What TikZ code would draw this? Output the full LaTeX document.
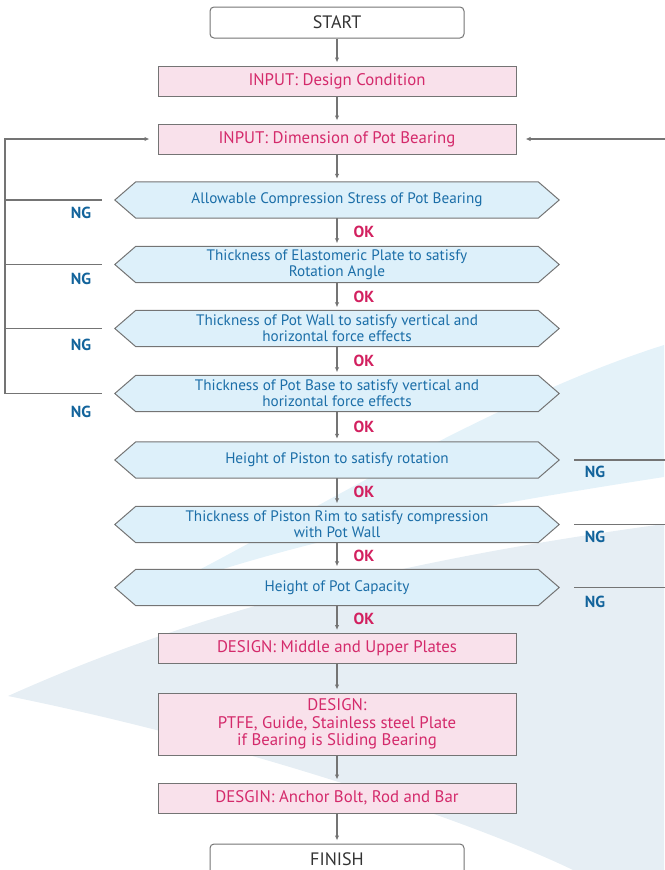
\documentclass[tikz,border=0pt]{standalone}
\usepackage{fontspec}
\setmainfont{PT Sans}
\usetikzlibrary{arrows.meta,calc}
\definecolor{pinkfill}{HTML}{F9E1EB}
\definecolor{pinktext}{HTML}{D42A6B}
\definecolor{hexfill}{HTML}{DDF0FA}
\definecolor{hextext}{HTML}{1B6EA8}
\definecolor{ngcol}{HTML}{12639B}
\definecolor{okcol}{HTML}{D2205F}
\definecolor{linecol}{HTML}{747474}
\definecolor{bgblue}{HTML}{E4F2F9}
\definecolor{bggray}{HTML}{E6EEF4}
\definecolor{darktext}{HTML}{333333}
\pgfdeclarelayer{back}
\pgfdeclarelayer{hexlayer}
\pgfsetlayers{back,hexlayer,main}
\begin{document}
\begin{tikzpicture}[x=1pt,y=-1pt,
  termbox/.style={draw=linecol, line width=1pt, fill=white, rounded corners=4pt, minimum width=254pt, minimum height=31pt, font=\fontsize{18}{20}\selectfont, text=darktext, inner sep=0pt},
  pinkbox/.style={draw=linecol, line width=1pt, fill=pinkfill, minimum width=358pt, minimum height=30pt, font=\fontsize{16.8}{17.5}\selectfont, text=pinktext, align=center, inner sep=0pt},
  hexbox/.style={minimum width=402pt, minimum height=36pt, font=\fontsize{15.2}{15.7}\selectfont, text=hextext, align=center, inner sep=0pt},
  hexshape/.style={draw=linecol, line width=1pt, fill=hexfill},
  conn/.style={draw=linecol, line width=1.1pt},
  arr/.style={conn, -{Latex[length=5pt,width=4.5pt]}, shorten >=3pt},
  ok/.style={font=\bfseries\fontsize{16}{18}\selectfont, text=okcol, anchor=west, inner sep=0pt, xshift=16pt},
  ng/.style={font=\bfseries\fontsize{16}{18}\selectfont, text=ngcol, inner sep=0pt},
]
\useasboundingbox (0,0) rectangle (664,870);

\begin{pgfonlayer}{back}
\fill[bggray] (8,696) .. controls (200,610) and (400,560) .. (664,524) -- (664,870) -- (573,870) .. controls (480,825) and (250,745) .. (8,696) -- cycle;
\fill[bgblue] (160,590) .. controls (300,520) and (490,400) .. (664,345) -- (664,477) .. controls (450,510) and (300,540) .. (160,590) -- cycle;
\end{pgfonlayer}

\node[termbox] (start) at (337,22.5) {START};
\node[pinkbox] (in1) at (337,81) {INPUT: Design Condition};
\node[pinkbox] (in2) at (337,139) {INPUT: Dimension of Pot Bearing};
\node[hexbox] (h1) at (337,200) {Allowable Compression Stress of Pot Bearing};
\node[hexbox] (h2) at (337,264.5) {Thickness of Elastomeric Plate to satisfy\\Rotation Angle};
\node[hexbox] (h3) at (337,328.5) {Thickness of Pot Wall to satisfy vertical and\\horizontal force effects};
\node[hexbox] (h4) at (337,393.5) {Thickness of Pot Base to satisfy vertical and\\horizontal force effects};
\node[hexbox] (h5) at (337,460) {Height of Piston to satisfy rotation};
\node[hexbox] (h6) at (337,524.5) {Thickness of Piston Rim to satisfy compression\\with Pot Wall};
\node[hexbox] (h7) at (337,587.5) {Height of Pot Capacity};
\node[pinkbox] (d1) at (337,648.5) {DESIGN: Middle and Upper Plates};
\node[pinkbox, minimum height=62pt] (d2) at (337,724) {DESIGN:\\PTFE, Guide, Stainless steel Plate\\if Bearing is Sliding Bearing};
\node[pinkbox] (d3) at (337,798) {DESGIN: Anchor Bolt, Rod and Bar};
\node[termbox] (finish) at (337,859.5) {FINISH};

\begin{pgfonlayer}{hexlayer}
\foreach \n in {h1,h2,h3,h4,h5,h6,h7}
  \draw[hexshape] (\n.north west) -- (\n.north east) -- ([xshift=21pt]\n.east) -- (\n.south east) -- (\n.south west) -- ([xshift=-21pt]\n.west) -- cycle;
\end{pgfonlayer}

\coordinate (L) at (5,139);
\coordinate (R) at (667,139);

\draw[arr] (start) -- (in1);
\draw[arr] (in1) -- (in2);
\draw[arr] (in2) -- (h1);
\draw[arr] (h1) -- node[ok]{OK} (h2);
\draw[arr] (h2) -- node[ok]{OK} (h3);
\draw[arr] (h3) -- node[ok]{OK} (h4);
\draw[arr] (h4) -- node[ok]{OK} (h5);
\draw[arr] (h5) -- node[ok]{OK} (h6);
\draw[arr] (h6) -- node[ok]{OK} (h7);
\draw[arr] (h7) -- node[ok]{OK} (d1);
\draw[arr] (d1) -- (d2);
\draw[arr] (d2) -- (d3);
\draw[arr] (d3) -- (finish);

\foreach \n in {h1,h2,h3}
  \draw[conn] ([xshift=-34pt]\n.west) -- (\n.west -| L);
\draw[arr, shorten >=8pt] ([xshift=-34pt]h4.west) -| (L) -- (in2.west);

\foreach \n in {h5,h6}
  \draw[conn] ([xshift=36pt]\n.east) -- (\n.east -| R);
\draw[arr, shorten >=9pt] ([xshift=36pt]h7.east) -| (R) -- (in2.east);

\node[ng] (ng1) at (81,213) {NG};
\node[ng] (ng2) at (81,279) {NG};
\node[ng] (ng3) at (81,345) {NG};
\node[ng] (ng4) at (81,412) {NG};
\node[ng] (ng5) at (595,472) {NG};
\node[ng] (ng6) at (595,537) {NG};
\node[ng] (ng7) at (595,602) {NG};
\end{tikzpicture}
\end{document}
